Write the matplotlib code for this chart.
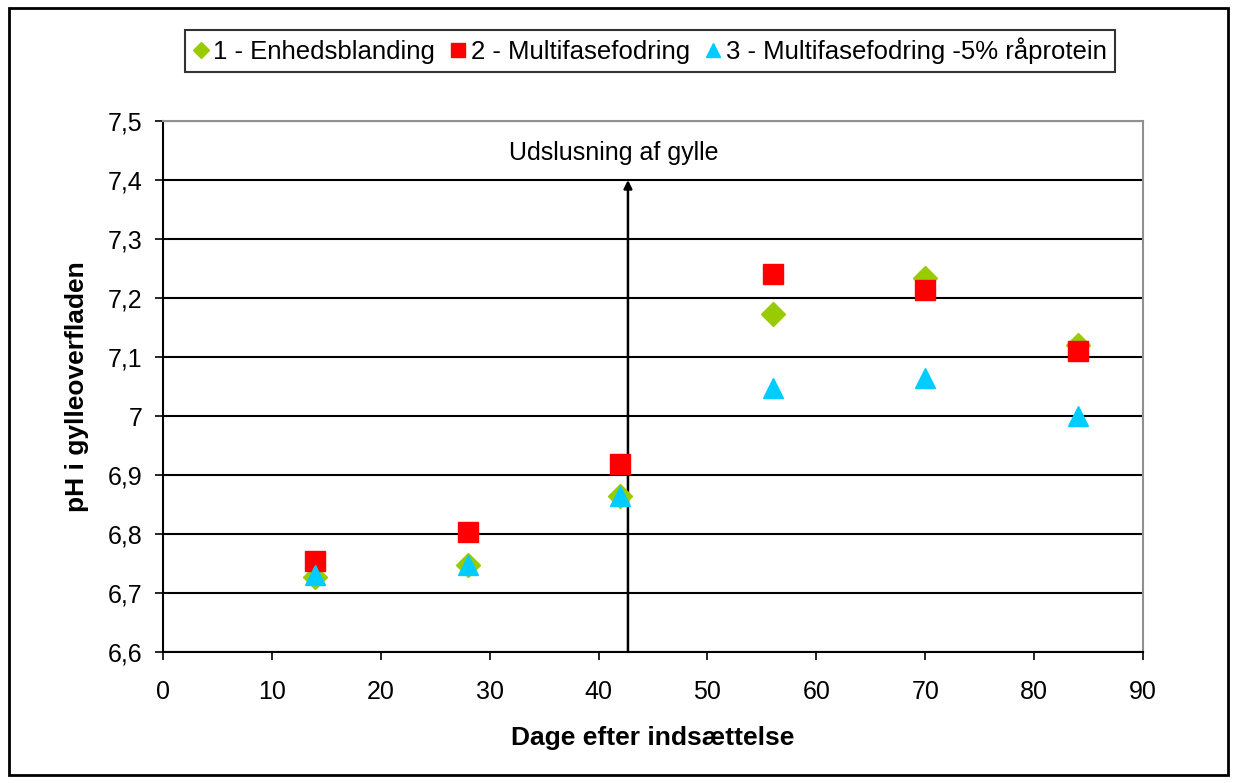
import matplotlib.pyplot as plt
from matplotlib.ticker import FuncFormatter

plt.rcParams['font.family'] = ['Liberation Sans', 'DejaVu Sans']

days = [14, 28, 42, 56, 70, 84]
ph_enhed = [6.727, 6.747, 6.865, 7.173, 7.234, 7.120]
ph_multi = [6.754, 6.803, 6.918, 7.240, 7.214, 7.110]
ph_multi_5 = [6.730, 6.748, 6.864, 7.047, 7.065, 7.000]
labels = ['1 - Enhedsblanding', '2 - Multifasefodring', '3 - Multifasefodring -5% råprotein']

udslusning_dag = 42.7

fig = plt.figure(figsize=(12.36, 7.83), dpi=100)
ax = fig.add_axes([163 / 1236, 1 - 652 / 783, 980 / 1236, 531 / 783])

ax.plot(days, ph_enhed, 'D', color='#99CC00', ms=12, ls='none', label=labels[0], zorder=3)
ax.plot(days, ph_multi, 's', color='#FF0000', ms=14, ls='none', label=labels[1], zorder=3)
ax.plot(days, ph_multi_5, '^', color='#00CCFF', ms=14, ls='none', label=labels[2], zorder=3)

ax.set_xlim(0, 90)
ax.set_ylim(6.6, 7.5)
ax.set_xticks(range(0, 91, 10))
ax.set_yticks([6.6 + 0.1 * i for i in range(10)])
ax.yaxis.set_major_formatter(FuncFormatter(lambda v, p: f'{round(v, 1):g}'.replace('.', ',')))
ax.tick_params(labelsize=18, direction='out', length=6, width=1.2, color='black')
ax.tick_params(axis='x', pad=14)
ax.tick_params(axis='y', pad=9)
ax.grid(axis='y', color='black', lw=1.5)
ax.set_axisbelow(True)

for side in ['left', 'bottom']:
    ax.spines[side].set_color('black')
    ax.spines[side].set_linewidth(1.5)
for side in ['top', 'right']:
    ax.spines[side].set_color('#909090')
    ax.spines[side].set_linewidth(1.5)

ax.set_xlabel('Dage efter indsættelse', fontsize=19, fontweight='bold', labelpad=16)
ax.set_ylabel('pH i gylleoverfladen', fontsize=19, fontweight='bold', labelpad=13)

# pil for tidspunkt for udslusning
ax.annotate('', xy=(udslusning_dag, 7.4), xytext=(udslusning_dag, 6.6),
            arrowprops=dict(arrowstyle='-|>', color='black', lw=1.8, mutation_scale=12,
                            shrinkA=0, shrinkB=0), zorder=2)
ax.text(udslusning_dag - 1.3, 7.445, 'Udslusning af gylle', fontsize=18, ha='center', va='center')

leg = fig.legend(loc='center', bbox_to_anchor=(650 / 1236, 1 - 51 / 783), ncol=3,
                 fontsize=18.5, frameon=True, fancybox=False, edgecolor='black',
                 markerscale=0.7, handlelength=0.6, handletextpad=0.2, columnspacing=0.6,
                 borderpad=0.3, borderaxespad=0)
leg.get_frame().set_linewidth(1.5)

fig.patches.append(plt.Rectangle((9 / 1236, 8 / 783), 1219 / 1236, 767 / 783,
                                 transform=fig.transFigure, fill=False,
                                 edgecolor='black', lw=2))

fig.savefig('out.png', dpi=100)
